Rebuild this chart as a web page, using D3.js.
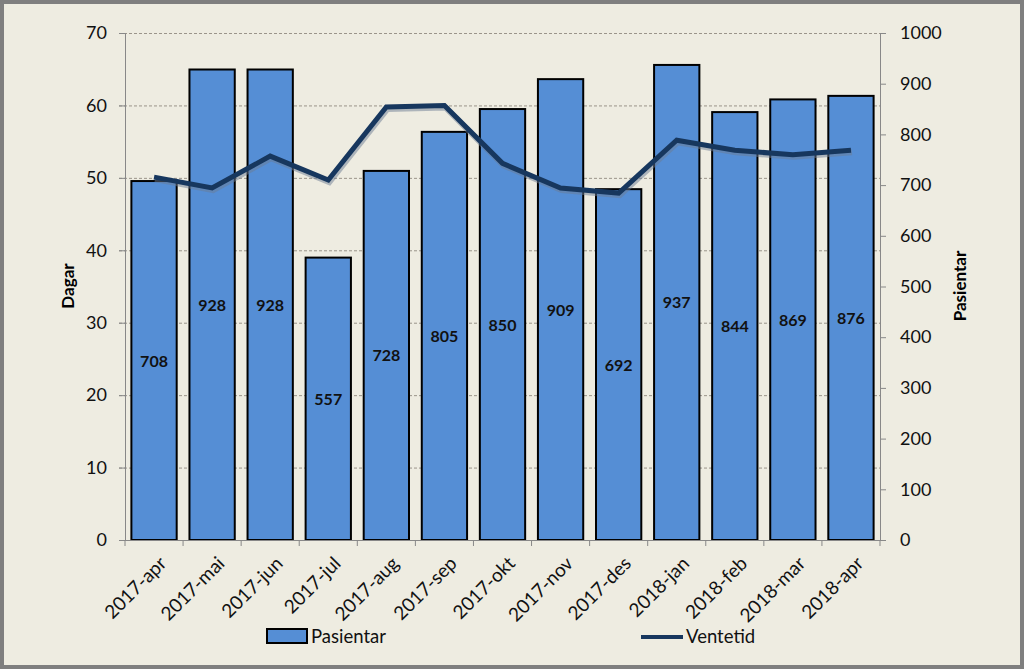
<!DOCTYPE html>
<html>
<head>
<meta charset="utf-8">
<script src="https://cdn.jsdelivr.net/npm/d3@7"></script>
<style>
  body { margin: 0; background: #fff; }
  svg { display: block; font-family: Lato, "Open Sans", sans-serif; }
</style>
</head>
<body>
<svg id="chart" width="1024" height="669"></svg>
<script>
var months = ["2017-apr", "2017-mai", "2017-jun", "2017-jul", "2017-aug", "2017-sep", "2017-okt",
              "2017-nov", "2017-des", "2018-jan", "2018-feb", "2018-mar", "2018-apr"];
var pasientar = [708, 928, 928, 557, 728, 805, 850, 909, 692, 937, 844, 869, 876];
var ventetid = [50.1, 48.6, 53.0, 49.7, 59.8, 60.0, 52.0, 48.6, 47.9, 55.2, 53.8, 53.2, 53.8];
var leftTicks = [0, 10, 20, 30, 40, 50, 60, 70];
var rightTicks = [0, 100, 200, 300, 400, 500, 600, 700, 800, 900, 1000];

var svg = d3.select("#chart"),
    width = +svg.attr("width"),
    height = +svg.attr("height");

// background + frame
svg.append("rect")
    .attr("x", 2).attr("y", 2)
    .attr("width", width - 4).attr("height", height - 4)
    .attr("fill", "#EEECE1")
    .attr("stroke", "#7F7F7F")
    .attr("stroke-width", 4);

var margin = {left: 125, right: 880, top: 33, bottom: 540};

var x = d3.scaleBand()
    .domain(months)
    .range([margin.left, margin.right])
    .paddingInner(0.22)
    .paddingOuter(0.11);

var yL = d3.scaleLinear().domain([0, 70]).range([margin.bottom, margin.top]);
var yR = d3.scaleLinear().domain([0, 1000]).range([margin.bottom, margin.top]);

// gridlines
svg.append("g")
    .selectAll("line")
    .data(leftTicks.filter(function(d) { return d > 0; }))
    .enter()
    .append("line")
    .attr("x1", margin.left - 6)
    .attr("x2", margin.right)
    .attr("y1", function(d) { return yL(d) + 0.5; })
    .attr("y2", function(d) { return yL(d) + 0.5; })
    .attr("stroke", "#9a948a")
    .attr("stroke-width", 1)
    .style("stroke-dasharray", "3,2");

// bars
svg.append("g")
    .selectAll("rect")
    .data(pasientar)
    .enter()
    .append("rect")
    .attr("x", function(d, i) { return x(months[i]); })
    .attr("y", function(d) { return yR(d); })
    .attr("width", x.bandwidth())
    .attr("height", function(d) { return yR(0) - yR(d); })
    .attr("fill", "#558ED5")
    .attr("stroke", "#000")
    .attr("stroke-width", 2);

// bar labels
svg.append("g")
    .selectAll("text")
    .data(pasientar)
    .enter()
    .append("text")
    .attr("x", function(d, i) { return x(months[i]) + x.bandwidth() / 2; })
    .attr("y", function(d) { return (yR(d) + yR(0)) / 2 + 6; })
    .attr("text-anchor", "middle")
    .style("font-size", "16px")
    .style("font-weight", "bold")
    .attr("fill", "#111")
    .text(function(d) { return d; });

// left axis
var gL = svg.append("g")
    .attr("transform", "translate(" + margin.left + ",0)")
    .call(d3.axisLeft(yL).tickValues(leftTicks).tickSize(6).tickPadding(12).tickFormat(d3.format("d")));
// right axis
var gR = svg.append("g")
    .attr("transform", "translate(" + margin.right + ",0)")
    .call(d3.axisRight(yR).tickValues(rightTicks).tickSize(6).tickPadding(14).tickFormat(d3.format("d")));

[gL, gR].forEach(function(g) {
    g.select(".domain").attr("stroke", "#888").attr("stroke-width", 1);
    g.selectAll(".tick line").attr("stroke", "#888");
    g.selectAll("text").style("font-size", "18px").attr("fill", "#111")
        .style("font-family", "Lato, 'Open Sans', sans-serif");
});

// x axis
var step = x.step();
svg.append("line")
    .attr("x1", margin.left).attr("x2", margin.right)
    .attr("y1", margin.bottom + 0.5).attr("y2", margin.bottom + 0.5)
    .attr("stroke", "#888");
svg.append("g")
    .selectAll("line")
    .data(d3.range(months.length + 1))
    .enter()
    .append("line")
    .attr("x1", function(i) { return margin.left + i * step; })
    .attr("x2", function(i) { return margin.left + i * step; })
    .attr("y1", margin.bottom)
    .attr("y2", margin.bottom + 6)
    .attr("stroke", "#888");

svg.append("g")
    .selectAll("text")
    .data(months)
    .enter()
    .append("text")
    .attr("transform", function(d) {
        return "translate(" + (x(d) + x.bandwidth() / 2 + 9) + "," + (margin.bottom + 20) + ") rotate(-45)";
    })
    .attr("text-anchor", "end")
    .attr("dy", "0.35em")
    .style("font-size", "19px")
    .attr("fill", "#111")
    .text(function(d) { return d; });

// line (with soft shadow)
var line = d3.line()
    .x(function(d, i) { return x(months[i]) + x.bandwidth() / 2; })
    .y(function(d) { return yL(d); });

svg.append("path")
    .datum(ventetid)
    .attr("d", line)
    .attr("transform", "translate(1,2)")
    .attr("fill", "none")
    .attr("stroke", "#6b7c93")
    .attr("stroke-opacity", 0.5)
    .attr("stroke-width", 6);
svg.append("path")
    .datum(ventetid)
    .attr("d", line)
    .attr("fill", "none")
    .attr("stroke", "#17375E")
    .attr("stroke-width", 5)
    .attr("stroke-linejoin", "miter");

// axis titles
svg.append("text")
    .attr("transform", "translate(74,286) rotate(-90)")
    .attr("text-anchor", "middle")
    .style("font-size", "17px")
    .style("font-weight", "bold")
    .text("Dagar");
svg.append("text")
    .attr("transform", "translate(966,286) rotate(-90)")
    .attr("text-anchor", "middle")
    .style("font-size", "17px")
    .style("font-weight", "bold")
    .text("Pasientar");

// legend
svg.append("rect")
    .attr("x", 267).attr("y", 629)
    .attr("width", 40).attr("height", 14)
    .attr("fill", "#558ED5")
    .attr("stroke", "#000")
    .attr("stroke-width", 2);
svg.append("text")
    .attr("x", 311).attr("y", 643)
    .style("font-size", "18.5px")
    .attr("fill", "#111")
    .text("Pasientar");
svg.append("line")
    .attr("x1", 641).attr("x2", 683)
    .attr("y1", 637).attr("y2", 637)
    .attr("stroke", "#17375E")
    .attr("stroke-width", 4);
svg.append("text")
    .attr("x", 686).attr("y", 643)
    .style("font-size", "18.5px")
    .attr("fill", "#111")
    .text("Ventetid");
</script>
</body>
</html>
